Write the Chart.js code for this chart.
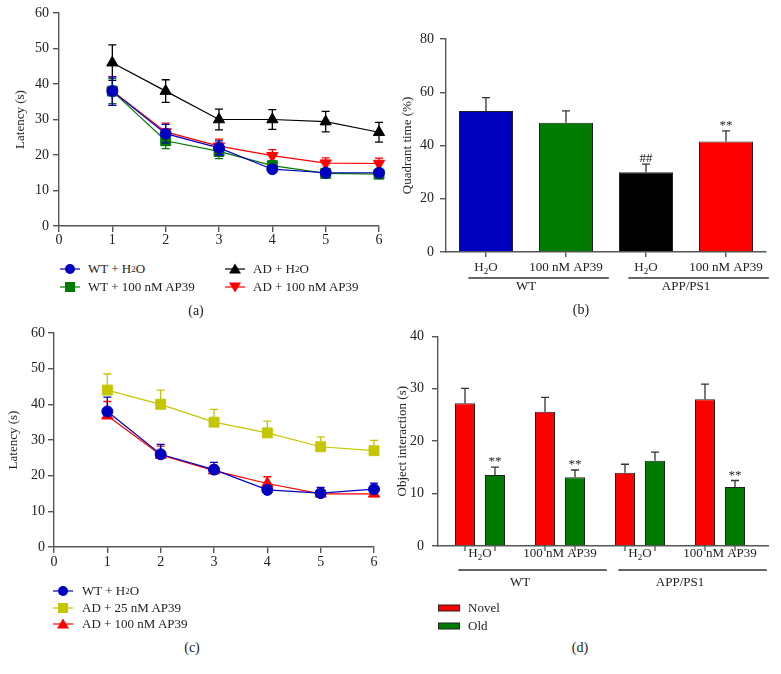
<!DOCTYPE html>
<html>
<head>
<meta charset="utf-8">
<script src="https://cdn.jsdelivr.net/npm/chart.js@4.4.1/dist/chart.umd.min.js"></script>
<style>
  body { margin: 0; background: #fff; }
  #fig { position: relative; width: 781px; height: 674px; font-family: "Liberation Serif", "DejaVu Serif", serif; color: #222; }
  canvas { position: absolute; }
  .tag { position: absolute; font-size: 14px; transform: translate(-50%, -50%); }
  .leg { position: absolute; font-size: 13px; line-height: 16px; white-space: nowrap; display: flex; align-items: center; }
  .leg sub { font-size: 9px; vertical-align: -3px; line-height: 0; }
</style>
</head>
<body>
<div id="fig">
  <canvas id="chartA" width="390" height="250" style="left:0;top:0"></canvas>
  <canvas id="chartB" width="401" height="330" style="left:380px;top:0"></canvas>
  <canvas id="chartC" width="390" height="260" style="left:0;top:320px"></canvas>
  <canvas id="chartD" width="401" height="280" style="left:380px;top:320px"></canvas>
  <div class="tag" style="left:196px;top:311px">(a)</div>
  <div class="tag" style="left:581px;top:310px">(b)</div>
  <div class="tag" style="left:192px;top:648px">(c)</div>
  <div class="tag" style="left:580px;top:648px">(d)</div>
</div>
<script>
// ---- data ----
const days = [1, 2, 3, 4, 5, 6];

// (a) escape latency
const seriesA = ['WT + H₂O', 'WT + 100 nM AP39', 'AD + H₂O', 'AD + 100 nM AP39'];
const aWtH2o = [38, 26, 22, 16, 15, 15];
const aWtH2oErr = [4, 2.6, 2, 1, 1, 1];
const aWtAp39 = [38, 24, 21, 17, 14.8, 14.6];
const aWtAp39Err = [3.5, 2.2, 2, 1.4, 1, 1];
const aAdH2o = [46, 38, 30, 30, 29.4, 26.4];
const aAdH2oErr = [5, 3.2, 2.9, 2.8, 2.9, 2.8];
const aAdAp39 = [38, 26.5, 22.5, 19.8, 17.7, 17.6];
const aAdAp39Err = [4, 2.5, 2, 1.7, 1.5, 1.5];

// (b) quadrant time
const quadCats = ['H₂O', '100 nM AP39', 'H₂O', '100 nM AP39'];
const quadTime = [53, 48.5, 30, 41.5];
const quadErr = [5, 4.5, 3, 4];
const quadMarks = ['', '', '##', '**'];

// (c) escape latency, AP39 doses
const seriesC = ['WT + H₂O', 'AD + 25 nM AP39', 'AD + 100 nM AP39'];
const cWtH2o = [38, 26, 21.7, 16, 15.1, 16.2];
const cWtH2oErr = [4, 2.8, 2, 1, 1.6, 1.7];
const cAd25 = [44, 40, 35, 32, 28.1, 27];
const cAd25Err = [4.5, 4, 3.6, 3.3, 2.8, 2.9];
const cAd100 = [36.8, 25.8, 21.4, 17.8, 14.9, 14.9];
const cAd100Err = [4, 2.5, 1.5, 1.9, 1, 1];

// (d) object interaction
const objCats = ['H₂O', '100 nM AP39', 'H₂O', '100 nM AP39'];
const objSeries = ['Novel', 'Old'];
const objNovel = [27.25, 25.6, 14, 28];
const objNovelErr = [2.85, 2.75, 1.6, 2.9];
const objOld = [13.55, 13.1, 16.25, 11.25];
const objOldErr = [1.5, 1.4, 1.65, 1.25];
const objOldMarks = ['**', '**', '', '**'];

const genotypes = ['WT', 'APP/PS1'];

// ---- style ----
const SERIF = '"Liberation Serif", "DejaVu Serif", serif';
const INK = '#222';
const AXIS = '#555';
const BLUE = '#0000c0', GREEN = '#007a00', RED = '#ff0000', BLACK = '#000000', YELLOW = '#c6c600';

Chart.defaults.font.family = SERIF;
Chart.defaults.color = INK;

// draws text with "₂" as a real subscript, centred on cx
function richSegs(ctx, text, size) {
  const parts = text.split('₂');
  const segs = [];
  parts.forEach((p, i) => {
    if (p) segs.push({t: p, font: size + 'px ' + SERIF, dy: 0});
    if (i < parts.length - 1) segs.push({t: '2', font: Math.round(size * 0.7) + 'px ' + SERIF, dy: size * 0.28});
  });
  segs.forEach(s => { ctx.font = s.font; s.w = ctx.measureText(s.t).width; });
  return segs;
}
function richWidth(ctx, text, size) {
  return richSegs(ctx, text, size).reduce((a, s) => a + s.w, 0);
}
function drawRich(ctx, text, cx, cy, size) {
  const segs = richSegs(ctx, text, size);
  let x = cx - segs.reduce((a, s) => a + s.w, 0) / 2;
  ctx.textAlign = 'left';
  ctx.textBaseline = 'middle';
  segs.forEach(s => { ctx.font = s.font; ctx.fillText(s.t, x, cy + s.dy); x += s.w; });
}

const errorBars = {
  id: 'errorBars',
  beforeDatasetDraw(chart, args) {
    const ds = chart.data.datasets[args.index];
    if (!ds.errors) return;
    const y = chart.scales.y, ctx = chart.ctx;
    ctx.save();
    ctx.strokeStyle = ds.errorColor || ds.borderColor;
    ctx.lineWidth = 1.3;
    args.meta.data.forEach((el, i) => {
      const p = ds.data[i];
      const v = typeof p === 'object' ? p.y : p;
      const e = ds.errors[i];
      const top = y.getPixelForValue(v + e);
      const bot = ds.errorMode === 'both' ? y.getPixelForValue(v - e) : y.getPixelForValue(v);
      ctx.beginPath();
      ctx.moveTo(el.x, bot); ctx.lineTo(el.x, top);
      ctx.moveTo(el.x - 4, top); ctx.lineTo(el.x + 4, top);
      if (ds.errorMode === 'both') { ctx.moveTo(el.x - 4, bot); ctx.lineTo(el.x + 4, bot); }
      ctx.stroke();
      if (ds.marks && ds.marks[i]) {
        ctx.fillStyle = INK;
        ctx.font = '13px ' + SERIF;
        ctx.textAlign = 'center';
        ctx.textBaseline = 'alphabetic';
        ctx.fillText(ds.marks[i], el.x, top - 2);
      }
    });
    ctx.restore();
  }
};

// category names, genotype brackets and optional per-bar ticks under the x axis
const groupAxis = {
  id: 'groupAxis',
  afterDraw(chart, args, o) {
    if (!o.names) return;
    const ctx = chart.ctx, xs = chart.scales.x, base = chart.chartArea.bottom;
    const centers = o.names.map((n, i) => xs.getPixelForValue(i));
    ctx.save();
    ctx.fillStyle = INK;
    ctx.strokeStyle = AXIS;
    ctx.lineWidth = 1.3;
    if (o.barTicks) {
      chart.data.datasets.forEach((ds, di) => {
        chart.getDatasetMeta(di).data.forEach(el => {
          ctx.beginPath(); ctx.moveTo(el.x, base); ctx.lineTo(el.x, base + 5); ctx.stroke();
        });
      });
    }
    o.names.forEach((n, i) => drawRich(ctx, n, centers[i], base + o.nameY, 13));
    o.groups.forEach((g, gi) => {
      const a = gi * 2, b = gi * 2 + 1;
      const l = centers[a] - richWidth(ctx, o.names[a], 13) / 2 - o.pad;
      const r = centers[b] + richWidth(ctx, o.names[b], 13) / 2 + o.pad;
      ctx.strokeStyle = '#333';
      ctx.beginPath(); ctx.moveTo(l, base + o.lineY); ctx.lineTo(r, base + o.lineY); ctx.stroke();
      drawRich(ctx, g, (centers[a] + centers[b]) / 2, base + o.groupY, 13);
    });
    ctx.restore();
  }
};

function yAxis(min, max, step, title, width, tickPad, titlePad) {
  return {
    min, max,
    border: {color: AXIS, width: 1.4},
    grid: {drawOnChartArea: false, color: AXIS, lineWidth: 1.4, tickLength: 6},
    ticks: {stepSize: step, font: {size: 14}, color: INK, padding: tickPad},
    title: {display: true, text: title, font: {size: 13}, color: INK, padding: {top: titlePad, bottom: 0}},
    afterFit: s => { s.width = width; }
  };
}

function lineSet(label, values, errors, color, shape, r, rot, mode) {
  return {
    label, data: days.map((d, i) => ({x: d, y: values[i]})),
    errors, errorMode: mode,
    borderColor: color, backgroundColor: color, borderWidth: 1.2,
    pointStyle: shape, pointRadius: r, pointHoverRadius: r, pointRotation: rot,
    pointBorderColor: color, pointBackgroundColor: color, pointBorderWidth: 1,
    clip: false
  };
}

function lineChart(id, datasets, padding, xh, xPad, yw, yPad, titlePad) {
  return new Chart(document.getElementById(id), {
    type: 'line',
    data: {datasets},
    options: {
      responsive: false, animation: false, events: [],
      layout: {padding},
      plugins: {legend: {display: false}, tooltip: {enabled: false}},
      scales: {
        x: {
          type: 'linear', min: 0, max: 6,
          border: {color: AXIS, width: 1.4},
          grid: {drawOnChartArea: false, color: AXIS, lineWidth: 1.4, tickLength: 6},
          ticks: {stepSize: 1, font: {size: 14}, color: INK, padding: xPad},
          afterFit: s => { s.height = xh; }
        },
        y: yAxis(0, 60, 10, 'Latency (s)', yw, yPad, titlePad)
      }
    },
    plugins: [errorBars]
  });
}

// (a)
lineChart('chartA', [
  lineSet(seriesA[0], aWtH2o, aWtH2oErr, BLUE, 'circle', 5.5, 0, 'both'),
  lineSet(seriesA[1], aWtAp39, aWtAp39Err, GREEN, 'rect', 7, 0, 'both'),
  lineSet(seriesA[3], aAdAp39, aAdAp39Err, RED, 'triangle', 6.5, 180, 'both'),
  lineSet(seriesA[2], aAdH2o, aAdH2oErr, BLACK, 'triangle', 6.5, 0, 'both')
], {top: 13, right: 11, left: 0, bottom: 0}, 24, 0, 59, 4, 13);

// (c)
lineChart('chartC', [
  lineSet(seriesC[0], cWtH2o, cWtH2oErr, BLUE, 'circle', 5.5, 0, 'up'),
  lineSet(seriesC[2], cAd100, cAd100Err, RED, 'triangle', 6.5, 0, 'up'),
  lineSet(seriesC[1], cAd25, cAd25Err, YELLOW, 'rect', 7, 0, 'up')
], {top: 13, right: 16, left: 0, bottom: 9}, 24, 1, 54, 3, 6);

// (b)
new Chart(document.getElementById('chartB'), {
  type: 'bar',
  data: {
    labels: quadCats,
    datasets: [{
      label: 'Quadrant time', data: quadTime, errors: quadErr, errorMode: 'up', marks: quadMarks,
      errorColor: '#333', backgroundColor: [BLUE, GREEN, BLACK, RED], borderColor: '#222', borderWidth: 1,
      barPercentage: 0.675, categoryPercentage: 1
    }]
  },
  options: {
    responsive: false, animation: false, events: [],
    layout: {padding: {top: 39, right: 15, left: 0, bottom: 0}},
    plugins: {
      legend: {display: false}, tooltip: {enabled: false},
      groupAxis: {names: quadCats, groups: genotypes, nameY: 16, lineY: 26, groupY: 35, pad: 6}
    },
    scales: {
      x: {
        border: {color: AXIS, width: 1.4},
        grid: {offset: false, drawOnChartArea: false, color: AXIS, lineWidth: 1.4, tickLength: 5},
        ticks: {display: false},
        afterFit: s => { s.height = 78; }
      },
      y: yAxis(0, 80, 20, 'Quadrant time (%)', 66, 6, 20)
    }
  },
  plugins: [errorBars, groupAxis]
});

// (d)
new Chart(document.getElementById('chartD'), {
  type: 'bar',
  data: {
    datasets: [
      {label: objSeries[0], data: objNovel.map((v, i) => ({x: i, y: v})), errors: objNovelErr, errorMode: 'up',
       errorColor: '#333', backgroundColor: RED, borderColor: '#222', borderWidth: 1,
       barPercentage: 2 / 3, categoryPercentage: 0.75},
      {label: objSeries[1], data: objOld.map((v, i) => ({x: i, y: v})), errors: objOldErr, errorMode: 'up', marks: objOldMarks,
       errorColor: '#333', backgroundColor: GREEN, borderColor: '#222', borderWidth: 1,
       barPercentage: 2 / 3, categoryPercentage: 0.75}
    ]
  },
  options: {
    responsive: false, animation: false, events: [],
    layout: {padding: {top: 13, right: 13, left: 0, bottom: 0}},
    plugins: {
      legend: {display: false}, tooltip: {enabled: false},
      groupAxis: {names: objCats, groups: genotypes, nameY: 8, lineY: 24, groupY: 37, pad: 10, barTicks: true}
    },
    scales: {
      x: {
        type: 'linear', min: -0.525, max: 3.6, offset: false,
        afterBuildTicks: s => { s.ticks = objCats.map((c, i) => ({value: i})); },
        border: {color: AXIS, width: 1.4},
        grid: {offset: false, drawOnChartArea: false, drawTicks: false},
        ticks: {display: false},
        afterFit: s => { s.height = 54; }
      },
      y: yAxis(0, 40, 10, 'Object interaction (s)', 58, 8, 15)
    }
  },
  plugins: [errorBars, groupAxis]
});

// ---- legends ----
const fig = document.getElementById('fig');
function marker(color, shape) {
  let m;
  if (shape === 'circle') m = `<circle cx="10" cy="8" r="5" fill="${color}"/>`;
  else if (shape === 'rect') m = `<rect x="5" y="3" width="10" height="10" fill="${color}"/>`;
  else if (shape === 'up') m = `<polygon points="10,2.5 16,12.5 4,12.5" fill="${color}"/>`;
  else if (shape === 'down') m = `<polygon points="10,13.5 16,3.5 4,3.5" fill="${color}"/>`;
  if (shape === 'bar') return `<svg width="22" height="16" style="margin-right:8px"><rect x="0.5" y="5" width="21" height="6" fill="${color}" stroke="#222"/></svg>`;
  return `<svg width="20" height="16" style="margin-right:${shape === 'sq9' ? 9 : 8}px"><line x1="0" y1="8" x2="20" y2="8" stroke="${color}" stroke-width="1.2"/>${m}</svg>`;
}
function legend(left, cy, label, color, shape, gap) {
  const d = document.createElement('div');
  d.className = 'leg';
  d.style.left = left + 'px';
  d.style.top = (cy - 8) + 'px';
  d.innerHTML = marker(color, shape).replace('margin-right:8px', 'margin-right:' + gap + 'px') + label.replace('₂', '<sub>2</sub>');
  fig.appendChild(d);
}
legend(60, 269, seriesA[0], BLUE, 'circle', 8);
legend(60, 287, seriesA[1], GREEN, 'rect', 8);
legend(225, 269, seriesA[2], BLACK, 'up', 8);
legend(225, 287, seriesA[3], RED, 'down', 8);
legend(53, 591, seriesC[0], BLUE, 'circle', 9);
legend(53, 608, seriesC[1], YELLOW, 'rect', 9);
legend(53, 624, seriesC[2], RED, 'up', 9);
legend(438, 608, objSeries[0], RED, 'bar', 8);
legend(438, 626, objSeries[1], GREEN, 'bar', 8);
</script>
</body>
</html>
